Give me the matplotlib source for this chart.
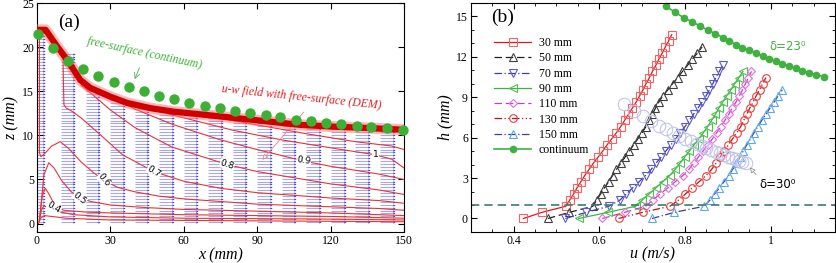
import numpy as np
import matplotlib.pyplot as plt
from matplotlib.ticker import MultipleLocator

plt.rcParams['font.family'] = ['Liberation Serif', 'DejaVu Sans']

# ---------------- (a) u-w field and free surface ----------------
# contour lines of u (m/s) (levels 0.2 ... 1.1)
cont_x = [
    [0.6, 1.5, 3, 6, 12, 30, 60, 90, 120, 150],
    [0.8, 1.8, 2.8, 4.5, 8, 15, 30, 60, 90, 120, 150],
    [1.0, 2.2, 3.4, 5, 7.5, 11, 20, 30, 60, 90, 120, 150],
    [1.2, 2.8, 4.8, 7, 10, 14, 17.5, 22, 30, 45, 60, 90, 120, 150],
    [1.0, 1.0, 1.0, 1.6, 3, 6, 9.5, 13, 18, 23, 27.3, 33, 40, 50, 60, 75, 90, 120, 140, 150],
    [10.6, 10.8, 11.0, 12, 14, 18, 25, 35, 47.7, 60, 75, 90, 120, 140, 150],
    [18, 22, 30, 40, 55, 77.7, 90, 120, 140, 150],
    [30, 40, 55, 75, 90, 109, 120, 140, 150],
    [45, 60, 80, 100, 120, 138.4, 145, 150],
    [68, 90, 110, 130, 145, 150],
]
cont_z = [
    [0.0, 0.6, 0.9, 0.8, 0.6, 0.4, 0.35, 0.3, 0.25, 0.2],
    [0.2, 1.5, 2.0, 1.8, 1.4, 1.0, 0.75, 0.6, 0.55, 0.5, 0.4],
    [0.5, 3.2, 4.0, 3.3, 1.9, 1.5, 1.3, 1.2, 1.0, 0.9, 0.8, 0.6],
    [0.8, 5.5, 6.9, 6.3, 4.9, 3.6, 2.9, 2.5, 2.1, 1.8, 1.6, 1.4, 1.2, 0.9],
    [21.8, 15, 8.0, 7.6, 7.9, 8.8, 9.3, 8.5, 7.0, 5.8, 4.9, 4.1, 3.6, 3.1, 2.8, 2.5, 2.2, 1.9, 1.7, 1.5],
    [19.3, 16, 13.5, 13.1, 12.8, 12.0, 10.3, 7.8, 5.9, 4.8, 4.0, 3.5, 2.9, 2.6, 2.3],
    [15.7, 14.8, 12.9, 10.9, 8.7, 6.7, 5.9, 4.5, 3.8, 3.3],
    [14.4, 13.0, 11.3, 9.5, 8.4, 7.1, 6.5, 5.6, 5.0],
    [13.1, 12.0, 10.6, 9.5, 8.6, 7.8, 7.3, 6.3],
    [12.3, 11.2, 10.2, 9.3, 8.8, 8.4],
]
lab_text = ['0.4', '0.5', '0.6', '0.7', '0.8', '0.9', '1']
lab_x = [7.0, 17.5, 27.3, 47.7, 77.7, 109, 138.4]
lab_z = [1.8, 2.9, 4.9, 5.9, 6.7, 7.1, 7.8]
lab_rot = [-30, -38, -50, -32, -17, -8, 0]

# free surface from DEM
dem_x = [0, 3.5, 8, 12.3, 17.7, 21.8, 30, 36.8, 46.4, 55.9, 66.8, 80.5, 94.1, 107.7, 121.4, 135, 150]
dem_z = [22, 22, 20.2, 18.6, 16.3, 15.4, 14.4, 13.7, 13.1, 12.7, 12.4, 12.0, 11.6, 11.2, 11.0, 10.85, 10.65]

# free surface from continuum model
fs_x = [0.4, 6.4, 12.6, 18.7, 24.9, 31.4, 37.5, 43.6, 50.0, 55.9, 62.3, 68.6, 74.6,
        81.1, 87.0, 93.4, 99.5, 105.7, 111.8, 118.2, 124.4, 130.6, 136.6, 142.9, 149.6]
fs_z = [21.5, 19.9, 18.5, 17.6, 16.7, 16.1, 15.5, 15.0, 14.5, 14.1, 13.7, 13.4, 13.1,
        12.8, 12.5, 12.3, 12.06, 11.8, 11.7, 11.4, 11.3, 11.1, 10.98, 10.8, 10.6]

# velocity vector columns
q_x0 = [0, 10, 20, 30, 40, 50, 60, 70, 80, 90, 100, 110, 120, 130, 140]
q_len = [3.0, 5.0, 5.2, 5.4, 5.4, 5.4, 5.5, 5.5, 5.6, 5.6, 5.6, 5.7, 5.7, 5.8, 5.8]
q_top = [21.8, 19.3, 15.2, 14.2, 13.5, 13.0, 12.6, 12.2, 11.9, 11.6, 11.3, 11.1, 10.9, 10.7, 10.5]

# ---------------- (b) velocity profiles ----------------
h_levels = [0.0, 0.455, 0.91, 1.365, 1.82, 2.275, 2.73, 3.185, 3.64, 4.095, 4.55,
            5.005, 5.46, 5.915, 6.37, 6.825, 7.28, 7.735, 8.19, 8.645, 9.1, 9.555,
            10.01, 10.465, 10.92, 11.375, 11.83, 12.285, 12.74, 13.195, 13.65]
u_30 = [0.423, 0.466, 0.522, 0.531, 0.540, 0.548, 0.557, 0.566, 0.576, 0.586, 0.597,
        0.608, 0.618, 0.629, 0.640, 0.650, 0.659, 0.668, 0.677, 0.686, 0.694, 0.702,
        0.709, 0.717, 0.724, 0.732, 0.739, 0.747, 0.754, 0.762, 0.769]
u_50 = [0.48, 0.53, 0.585, 0.594, 0.603, 0.612, 0.622, 0.631, 0.640, 0.650, 0.660,
        0.670, 0.680, 0.690, 0.700, 0.709, 0.716, 0.724, 0.731, 0.739, 0.748, 0.760,
        0.771, 0.783, 0.794, 0.806, 0.817, 0.829, 0.840]
u_70 = [0.521, 0.569, 0.622, 0.648, 0.663, 0.678, 0.693, 0.708, 0.721, 0.732, 0.744,
        0.755, 0.767, 0.778, 0.789, 0.800, 0.810, 0.820, 0.830, 0.840, 0.849, 0.857,
        0.865, 0.872, 0.880, 0.888]
u_90 = [0.552, 0.62, 0.685, 0.700, 0.716, 0.732, 0.748, 0.764, 0.777, 0.788, 0.799,
        0.810, 0.821, 0.832, 0.843, 0.853, 0.862, 0.871, 0.879, 0.888, 0.897, 0.907,
        0.916, 0.926, 0.935]
u_110 = [0.607, 0.659, 0.708, 0.725, 0.742, 0.760, 0.777, 0.795, 0.809, 0.820, 0.831,
         0.842, 0.853, 0.864, 0.874, 0.884, 0.893, 0.902, 0.910, 0.919, 0.927, 0.934,
         0.941, 0.948, 0.955]
u_130 = [0.645, 0.701, 0.765, 0.785, 0.801, 0.817, 0.833, 0.849, 0.862, 0.872, 0.882,
         0.892, 0.901, 0.911, 0.921, 0.930, 0.937, 0.944, 0.951, 0.959, 0.966, 0.974,
         0.981, 0.989]
u_150 = [0.723, 0.775, 0.845, 0.858, 0.869, 0.880, 0.891, 0.902, 0.911, 0.920, 0.928,
         0.936, 0.944, 0.953, 0.961, 0.970, 0.979, 0.989, 0.998, 1.008, 1.017, 1.027]

cont_u = [0.7545, 0.7755, 0.7965, 0.8166, 0.835, 0.853, 0.871, 0.888, 0.903, 0.919,
          0.934, 0.950, 0.965, 0.981, 0.996, 1.012, 1.027, 1.043, 1.058, 1.074, 1.090,
          1.105, 1.124]
cont_h = [15.79, 15.34, 14.92, 14.60, 14.30, 13.98, 13.73, 13.43, 13.18, 12.89, 12.69,
          12.49, 12.27, 12.07, 11.87, 11.67, 11.50, 11.33, 11.15, 10.98, 10.83, 10.68, 10.53]

d30_u = [0.6587, 0.682, 0.7015, 0.721, 0.740, 0.7557, 0.771, 0.7869, 0.801, 0.814,
         0.827, 0.840, 0.850, 0.861, 0.872, 0.881, 0.891, 0.900, 0.909, 0.919, 0.926,
         0.934, 0.942]
d30_h = [8.48, 7.98, 7.61, 7.24, 6.87, 6.62, 6.37, 6.13, 5.93, 5.72, 5.55, 5.38, 5.23,
         5.08, 4.93, 4.83, 4.71, 4.58, 4.49, 4.39, 4.29, 4.21, 4.14]

fig = plt.figure(figsize=(8.37, 2.63), dpi=100)

# ================= panel (a) =================
ax1 = fig.add_axes([0.0442, 0.1167, 0.4385, 0.8703])

for x0, ln, top in zip(q_x0, q_len, q_top):
    zs = np.arange(0.15, top, 0.33)
    ax1.hlines(zs, x0, x0 + ln, color='#a8a8e6', lw=0.8, zorder=1)
    ax1.scatter(np.full(len(zs), x0 + ln), zs, marker='>', s=2.5,
                color='#3c3cc8', linewidths=0, zorder=2)

for xs, zs in zip(cont_x, cont_z):
    ax1.plot(xs, zs, color='#e83434', lw=0.8, zorder=3)

for t, x, z, r in zip(lab_text, lab_x, lab_z, lab_rot):
    ax1.text(x, z, t, fontsize=6.5, family='DejaVu Sans', rotation=r,
             ha='center', va='center', zorder=4,
             bbox=dict(fc='white', ec='none', pad=0.2))

ax1.plot(dem_x, dem_z, color='#ff7070', lw=8, alpha=0.5, solid_capstyle='butt', zorder=5)
ax1.plot(dem_x, dem_z, color='#d00000', lw=4.5, solid_capstyle='butt', zorder=6)
ax1.plot(fs_x, fs_z, 'o', color='#3cb034', ms=7.5, mec='none', zorder=7, clip_on=False)

ax1.annotate('', xy=(39.5, 16.1), xytext=(42.3, 18.0),
             arrowprops=dict(arrowstyle='->', color='#50b050', lw=0.6))
ax1.text(44, 19.3, 'free-surface (continuum)', color='#3cb034', style='italic',
         fontsize=8.5, rotation=-12, ha='center', va='center')
ax1.annotate('', xy=(91.4, 7.0), xytext=(109.8, 12.9),
             arrowprops=dict(arrowstyle='-|>', color='#f08080', lw=0.6,
                             fc='white', mutation_scale=8))
ax1.text(108, 14.3, 'u-w field with free-surface (DEM)', color='#e02020', style='italic',
         fontsize=8.5, rotation=-6, ha='center', va='center')
ax1.text(8.8, 22.9, '(a)', fontsize=14, ha='left', va='center')

ax1.set_xlim(0, 150)
ax1.set_ylim(-1, 25)
ax1.set_xticks(range(0, 151, 30))
ax1.set_yticks(range(0, 26, 5))
ax1.tick_params(direction='in', top=True, right=True, length=4, labelsize=8.5, pad=2)
ax1.set_xlabel('x (mm)', style='italic', fontsize=11.5, labelpad=0)
ax1.set_ylabel('z (mm)', style='italic', fontsize=11.5, labelpad=2)

# ================= panel (b) =================
ax2 = fig.add_axes([0.5624, 0.118, 0.4352, 0.8706])

series = [
    ('30 mm', u_30, '#e8141c', '-', 's', '#f06464'),
    ('50 mm', u_50, '#202020', (0, (6, 3)), '^', '#404040'),
    ('70 mm', u_70, '#3a3aa8', (0, (6, 2, 1, 2)), 'v', '#5a5ac8'),
    ('90 mm', u_90, '#40b040', '-', '<', '#50c050'),
    ('110 mm', u_110, '#c040c0', (0, (6, 3)), 'D', '#e070e0'),
    ('130 mm', u_130, '#c01010', (0, (6, 2, 1, 2, 1, 2)), 'o', '#e84040'),
    ('150 mm', u_150, '#3a3aa8', (0, (6, 2, 1, 2)), '^', '#60a8e8'),
]
for name, u, lc, ls, mk, mc in series:
    ms = 4.5 if mk == 'D' else 5.5
    ax2.plot(u, h_levels[:len(u)], color=lc, ls=ls, lw=0.9, marker=mk, ms=ms,
             mfc='none', mec=mc, mew=0.8, label=name)

ax2.plot(d30_u, d30_h, 'o', ms=9, mfc='none', mec='#c4c4ec', mew=0.8)
ax2.plot(cont_u, cont_h, '-o', color='#40b040', ms=5.5, mec='none', lw=1.2,
         label='continuum', clip_on=False)

ax2.axhline(1.0, color='#3d7a72', lw=1.2, dashes=(5, 3))

ax2.annotate('', xy=(0.947, 3.95), xytext=(0.97, 3.1),
             arrowprops=dict(arrowstyle='-|>', color='#909090', lw=0.6,
                             fc='white', mutation_scale=8))
ax2.text(0.973, 2.5, 'δ=30⁰', family='DejaVu Sans', fontsize=8.5, ha='left', va='center')
ax2.text(0.997, 12.8, 'δ=23⁰', family='DejaVu Sans', fontsize=8.5, color='#40b040',
         ha='left', va='center')
ax2.text(0.348, 14.9, '(b)', fontsize=14, ha='left', va='center')

ax2.legend(loc='upper left', bbox_to_anchor=(0.05, 0.872), frameon=False,
           fontsize=8.5, handlelength=3.2, handletextpad=0.6, labelspacing=0.28,
           numpoints=1, borderaxespad=0)

ax2.set_xlim(0.3, 1.15)
ax2.set_ylim(-1, 16)
ax2.set_xticks([0.4, 0.6, 0.8, 1.0])
ax2.set_xticklabels(['0.4', '0.6', '0.8', '1'])
ax2.set_yticks(range(0, 16, 3))
ax2.xaxis.set_minor_locator(MultipleLocator(0.05))
ax2.yaxis.set_minor_locator(MultipleLocator(1))
ax2.tick_params(direction='in', top=True, right=True, which='both', labelsize=8.5, pad=2)
ax2.tick_params(which='major', length=4)
ax2.tick_params(which='minor', length=2)
ax2.set_xlabel('u (m/s)', style='italic', fontsize=11.5, labelpad=0)
ax2.set_ylabel('h (mm)', style='italic', fontsize=11.5, labelpad=2)

fig.savefig('out.png', dpi=100)
